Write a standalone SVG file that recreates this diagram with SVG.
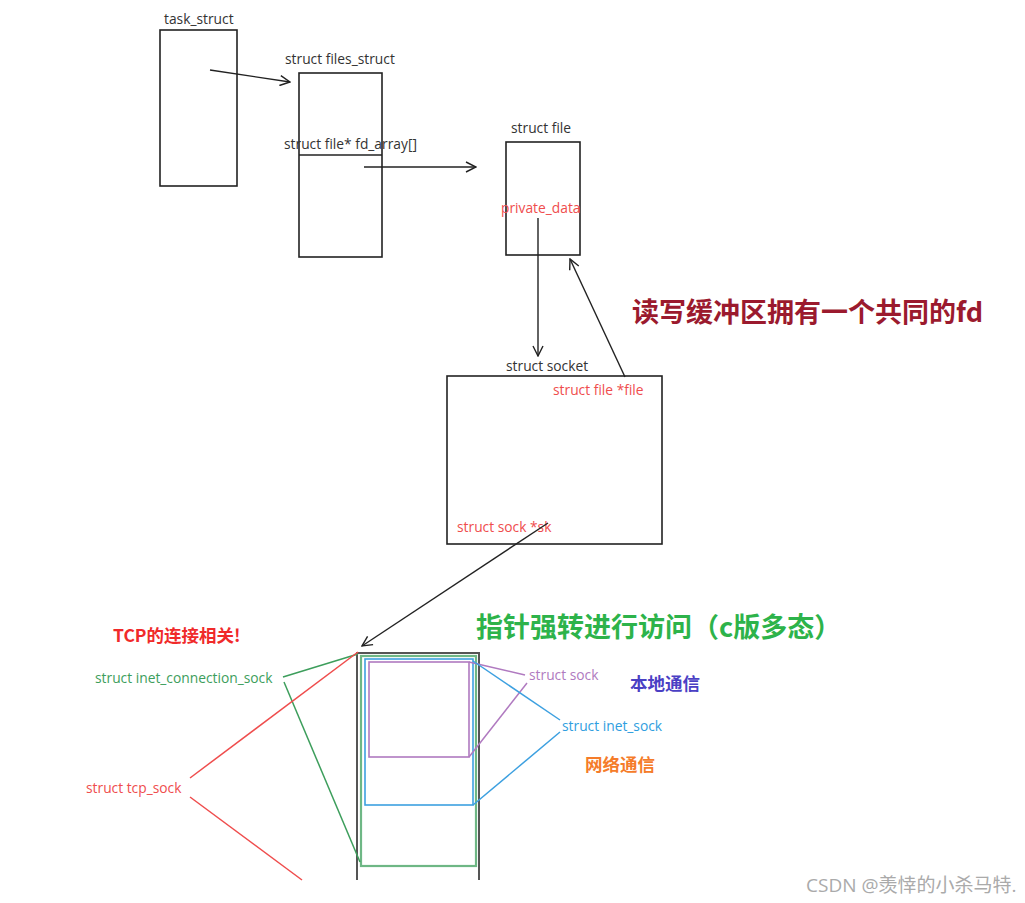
<svg xmlns="http://www.w3.org/2000/svg" width="1025" height="903" viewBox="0 0 1025 903">
<defs>
<style>
text{font-family:"Open Sans","Liberation Sans","Noto Sans CJK SC",sans-serif;}
.lbl{font-size:13.8px;fill:#333;}
.red{font-size:13.8px;fill:#ef4d4d;}
.sm{font-size:13.8px;}
.box{fill:none;stroke:#222;stroke-width:1.6;}
.ln{fill:none;stroke:#222;stroke-width:1.4;}
.big{font-size:27px;font-weight:bold;font-family:"Noto Sans CJK SC","Noto Sans",sans-serif;}
.mid{font-size:17.5px;font-weight:bold;font-family:"Noto Sans CJK SC","Noto Sans",sans-serif;}
</style>
<marker id="ah" viewBox="0 0 12 12" refX="11" refY="6" markerWidth="12" markerHeight="12" markerUnits="userSpaceOnUse" orient="auto">
<path d="M1,1 L11,6 L1,11" fill="none" stroke="#222" stroke-width="1.4"/>
</marker>
</defs>
<rect width="1025" height="903" fill="#fff"/>

<g id="task_struct">
<rect class="box" x="160" y="30" width="77" height="156"/>
<text class="lbl" x="164" y="24">task_struct</text>
</g>
<g id="files_struct">
<rect class="box" x="299" y="73" width="83" height="184"/>
<line class="box" x1="299" y1="155" x2="382" y2="155"/>
<text class="lbl" x="285" y="64">struct files_struct</text>
<text class="lbl" x="284" y="149">struct file* fd_array[]</text>
</g>
<g id="struct_file">
<rect class="box" x="506" y="142" width="74" height="113"/>
<text class="lbl" x="511" y="133">struct file</text>
<text class="red" x="501" y="213">private_data</text>
</g>
<g id="struct_socket">
<rect class="box" x="447" y="376" width="215" height="168"/>
<text class="lbl" x="506" y="371">struct socket</text>
<text class="red" x="553" y="395">struct file *file</text>
<text class="red" x="457" y="532">struct sock *sk</text>
</g>
<g id="note_fd">
<text class="big" x="632" y="322" fill="#9b1a2e">读写缓冲区拥有一个共同的fd</text>
</g>

<g id="sock_layers">
<line x1="357" y1="652" x2="357" y2="880" stroke="#555" stroke-width="2"/>
<line x1="479" y1="652" x2="479" y2="880" stroke="#555" stroke-width="2"/>
<line x1="357" y1="653" x2="479" y2="653" stroke="#555" stroke-width="2"/>
<rect x="361" y="656" width="115" height="210" fill="none" stroke="#4aa566" stroke-width="2.2" stroke-opacity="0.8"/>
<rect x="365" y="659" width="108" height="146" fill="none" stroke="#3da0e0" stroke-width="1.6"/>
<rect x="369" y="662" width="100" height="95" fill="none" stroke="#b07ac0" stroke-width="1.6"/>
</g>

<g id="labels_right">
<text class="sm" x="529" y="680" fill="#b07ac0">struct sock</text>
<text class="sm" x="562" y="731" fill="#2f9ee0">struct inet_sock</text>
<text class="mid" x="630" y="690" fill="#4a40c4">本地通信</text>
<text class="mid" x="585" y="771" fill="#f57c2a">网络通信</text>
<text class="big" x="476" y="637" fill="#2db34a">指针强转进行访问（c版多态）</text>
</g>
<g id="labels_left">
<text class="mid" x="113" y="642" fill="#f02a2a">TCP的连接相关!</text>
<text class="sm" x="95" y="683" fill="#3d9e5c">struct inet_connection_sock</text>
<text class="sm" x="86" y="793" fill="#ef4d4d">struct tcp_sock</text>
</g>

<g id="connectors">
<line class="ln" x1="210" y1="70" x2="290" y2="82" marker-end="url(#ah)"/>
<line class="ln" x1="364" y1="167" x2="476" y2="167" marker-end="url(#ah)"/>
<line class="ln" x1="538" y1="218" x2="538" y2="356" marker-end="url(#ah)"/>
<line class="ln" x1="625" y1="377" x2="570" y2="259" marker-end="url(#ah)"/>
<line class="ln" x1="548" y1="523" x2="362" y2="646" marker-end="url(#ah)"/>
<polyline fill="none" stroke="#b07ac0" stroke-width="1.5" points="469,662 525,675"/>
<polyline fill="none" stroke="#b07ac0" stroke-width="1.5" points="469,757 527,683"/>
<polyline fill="none" stroke="#3da0e0" stroke-width="1.5" points="473,661 560,720"/>
<polyline fill="none" stroke="#3da0e0" stroke-width="1.5" points="473,805 560,732"/>
<polyline fill="none" stroke="#3d9e5c" stroke-width="1.5" points="283,677 358,654"/>
<polyline fill="none" stroke="#3d9e5c" stroke-width="1.5" points="284,682 360,862"/>
<polyline fill="none" stroke="#ef4d4d" stroke-width="1.5" points="190,778 358,652"/>
<polyline fill="none" stroke="#ef4d4d" stroke-width="1.5" points="190,797 302,880"/>
</g>

<text x="806" y="892" font-family="Liberation Sans,Noto Sans CJK SC,sans-serif" font-size="19" fill="#aaa">CSDN @羡悻的小杀马特.</text>
</svg>
